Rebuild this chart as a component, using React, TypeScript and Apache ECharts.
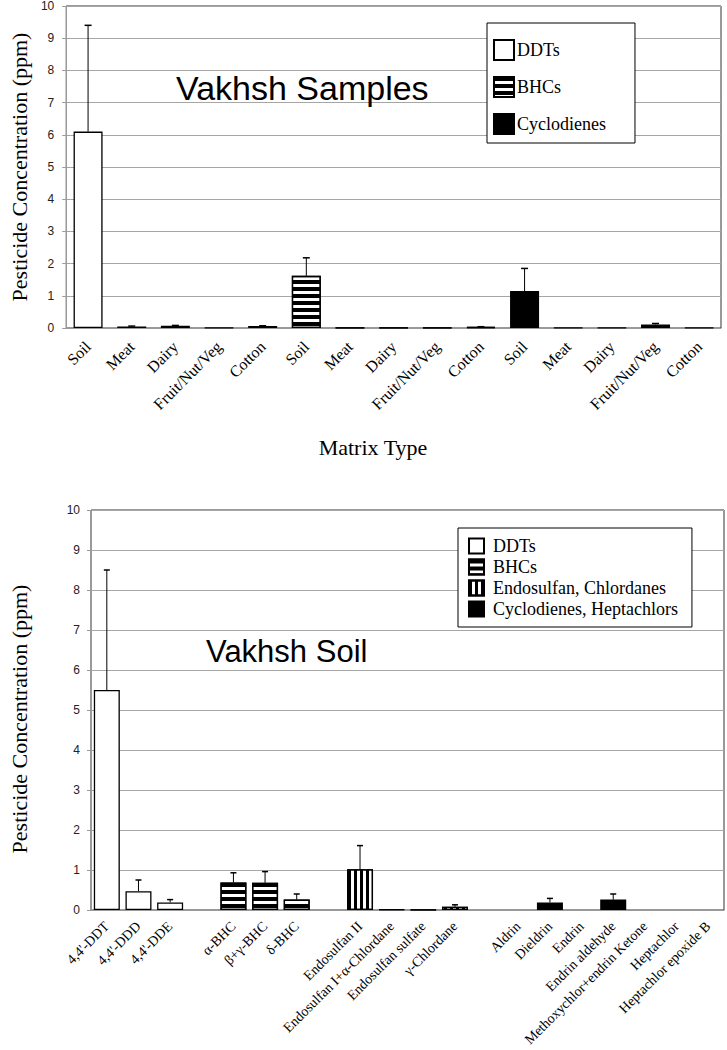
import React, { useEffect, useRef } from 'react';
import * as echarts from 'echarts';

// ---------- Top chart data (Vakhsh Samples) ----------
const matrixTypes = ['Soil', 'Meat', 'Dairy', 'Fruit/Nut/Veg', 'Cotton'];
const topLabels = [...matrixTypes, ...matrixTypes, ...matrixTypes];
const topDdtMean = [6.1, 0.05, 0.07, 0.01, 0.06];
const topDdtErr = [3.3, 0.01, 0.01, 0, 0.01];
const topBhcMean = [1.62, 0.005, 0.01, 0.01, 0.03];
const topBhcErr = [0.56, 0, 0, 0, 0.01];
const topCycMean = [1.15, 0.01, 0.01, 0.11, 0.01];
const topCycErr = [0.7, 0, 0, 0.03, 0];

// ---------- Bottom chart data (Vakhsh Soil) ----------
const soilLabels = [
  "4,4'-DDT", "4,4'-DDD", "4,4'-DDE", ' ',
  'α-BHC', 'β+γ-BHC', 'δ-BHC', '  ',
  'Endosulfan II', 'Endosulfan I+α-Chlordane', 'Endosulfan sulfate', 'γ-Chlordane', '   ',
  'Aldrin', 'Dieldrin', 'Endrin', 'Endrin aldehyde', 'Methoxychlor+endrin Ketone', 'Heptachlor', 'Heptachlor epoxide B',
];
const soilDdtMean = [5.5, 0.47, 0.19];
const soilDdtErr = [3.0, 0.28, 0.07];
const soilBhcMean = [0.69, 0.68, 0.26];
const soilBhcErr = [0.24, 0.28, 0.14];
const soilEndoMean = [1.02, 0.02, 0.01, 0.08];
const soilEndoErr = [0.59, 0, 0, 0.05];
const soilCycMean = [0, 0.19, 0, 0.26, 0, 0, 0];
const soilCycErr = [0, 0.1, 0, 0.14, 0, 0, 0];

const SERIF = 'Liberation Serif';
const SANS = 'Liberation Sans';

const hStripe = {
  symbol: 'rect', symbolSize: 1, color: '#000', backgroundColor: '#fff',
  dashArrayX: [1, 0], dashArrayY: [4, 3], rotation: 0,
};
const vStripe = {
  symbol: 'rect', symbolSize: 1, color: '#000', backgroundColor: '#fff',
  dashArrayX: [3, 3], dashArrayY: [1, 0], rotation: 0,
};

function placeGroup(values: number[], start: number, total: number) {
  const arr: any[] = new Array(total).fill('-');
  values.forEach((v, i) => { arr[start + i] = v === 0 ? '-' : v; });
  return arr;
}

function errorData(groups: { start: number; mean: number[]; err: number[] }[]) {
  const out: number[][] = [];
  groups.forEach(g => g.mean.forEach((m, i) => {
    if (g.err[i] > 0) out.push([g.start + i, m, m + g.err[i]]);
  }));
  return out;
}

function errorSeries(data: number[][], capHalf: number) {
  return {
    type: 'custom',
    name: 'error',
    z: 5,
    silent: true,
    data,
    encode: { x: 0, y: [1, 2] },
    renderItem: (params: any, api: any) => {
      const x = api.value(0);
      const p1 = api.coord([x, api.value(1)]);
      const p2 = api.coord([x, api.value(2)]);
      return {
        type: 'group',
        children: [
          { type: 'line', shape: { x1: p1[0], y1: p1[1], x2: p2[0], y2: p2[1] }, style: { stroke: '#000', lineWidth: 1 } },
          { type: 'line', shape: { x1: p2[0] - capHalf, y1: p2[1], x2: p2[0] + capHalf, y2: p2[1] }, style: { stroke: '#000', lineWidth: 1.5 } },
        ],
      };
    },
  };
}

function barSeries(name: string, data: any[], kind: 'white' | 'h' | 'v' | 'black', width: number) {
  const itemStyle: any = { color: kind === 'black' ? '#000' : '#fff', borderColor: '#000', borderWidth: 1.3 };
  if (kind === 'h') itemStyle.decal = hStripe;
  if (kind === 'v') itemStyle.decal = vStripe;
  return { type: 'bar', name, data, barWidth: width, barGap: '-100%', itemStyle, z: 2 };
}

function yAxisCfg(fontSize: number, margin: number, nameGap: number, namePad: number[]) {
  return {
    type: 'value', min: 0, max: 10, interval: 1,
    axisLine: { show: true, lineStyle: { color: '#9a9a9a', width: 1 } },
    axisTick: { show: true, length: 4, lineStyle: { color: '#9a9a9a' } },
    axisLabel: { fontFamily: SANS, fontSize, color: '#222', margin },
    splitLine: { show: true, lineStyle: { color: '#a6a6a6', width: 1.2 } },
    name: 'Pesticide Concentration (ppm)',
    nameLocation: 'middle', nameRotate: 90, nameGap,
    nameTextStyle: { fontFamily: SERIF, fontSize: 22, color: '#000', padding: namePad },
  };
}

function buildTop() {
  const N = topLabels.length;
  return {
    animation: false,
    backgroundColor: '#fff',
    title: {
      text: 'Vakhsh Samples', left: 176, top: 88, padding: 0,
      textAlign: 'left', textVerticalAlign: 'middle',
      textStyle: { fontFamily: SANS, fontSize: 34, fontWeight: 'normal', color: '#000' },
    },
    legend: {
      data: ['DDTs', 'BHCs', 'Cyclodienes'],
      orient: 'vertical', left: 487, top: 23,
      padding: [16, 29, 8, 6],
      itemWidth: 20, itemHeight: 20, itemGap: 15,
      icon: 'rect',
      borderColor: '#000', borderWidth: 1, backgroundColor: '#fff',
      textStyle: { fontFamily: SERIF, fontSize: 18, color: '#000', padding: [0, 0, 0, -2] },
    },
    grid: { left: 60, top: 5, width: 661, height: 323, show: true, borderColor: '#333', borderWidth: 1 },
    xAxis: {
      type: 'category', data: topLabels,
      axisLine: { show: true, lineStyle: { color: '#9a9a9a', width: 1 } },
      axisTick: { show: false },
      axisLabel: { interval: 0, rotate: 45, fontFamily: SERIF, fontSize: 16, color: '#000', margin: 16 },
      splitLine: { show: false },
    },
    yAxis: yAxisCfg(12, 12, 34, [0, 0, 0, 0]),
    graphic: [{
      type: 'text', x: 373, y: 447,
      style: { text: 'Matrix Type', fontFamily: SERIF, fontSize: 22, fill: '#000', align: 'center', verticalAlign: 'middle' },
    }],
    series: [
      barSeries('DDTs', placeGroup(topDdtMean, 0, N), 'white', 29),
      barSeries('BHCs', placeGroup(topBhcMean, 5, N), 'h', 29),
      barSeries('Cyclodienes', placeGroup(topCycMean, 10, N), 'black', 29),
      errorSeries(errorData([
        { start: 0, mean: topDdtMean, err: topDdtErr },
        { start: 5, mean: topBhcMean, err: topBhcErr },
        { start: 10, mean: topCycMean, err: topCycErr },
      ]), 3.5),
    ],
  };
}

function buildBottom() {
  const N = soilLabels.length;
  return {
    animation: false,
    backgroundColor: '#fff',
    title: {
      text: 'Vakhsh Soil', left: 206, top: 181, padding: 0,
      textAlign: 'left', textVerticalAlign: 'middle',
      textStyle: { fontFamily: SANS, fontSize: 31, fontWeight: 'normal', color: '#000' },
    },
    legend: {
      data: ['DDTs', 'BHCs', 'Endosulfan, Chlordanes', 'Cyclodienes, Heptachlors'],
      orient: 'vertical', left: 458, top: 58,
      padding: [9, 14, 9, 10],
      itemWidth: 15, itemHeight: 15, itemGap: 3,
      icon: 'rect',
      borderColor: '#000', borderWidth: 1, backgroundColor: '#fff',
      textStyle: { fontFamily: SERIF, fontSize: 18, lineHeight: 18, color: '#000', padding: [0, 0, 0, 4] },
    },
    grid: { left: 85, top: 40, width: 639, height: 400, show: true, borderColor: '#333', borderWidth: 1 },
    xAxis: {
      type: 'category', data: soilLabels,
      axisLine: { show: true, lineStyle: { color: '#9a9a9a', width: 1 } },
      axisTick: { show: false },
      axisLabel: { interval: 0, rotate: 45, fontFamily: SERIF, fontSize: 14, color: '#000', margin: 14 },
      splitLine: { show: false },
    },
    yAxis: yAxisCfg(12, 11, 61, [0, 18, 0, 0]),
    series: [
      barSeries('DDTs', placeGroup(soilDdtMean, 0, N), 'white', 26),
      barSeries('BHCs', placeGroup(soilBhcMean, 4, N), 'h', 26),
      barSeries('Endosulfan, Chlordanes', placeGroup(soilEndoMean, 8, N), 'v', 26),
      barSeries('Cyclodienes, Heptachlors', placeGroup(soilCycMean, 13, N), 'black', 26),
      errorSeries(errorData([
        { start: 0, mean: soilDdtMean, err: soilDdtErr },
        { start: 4, mean: soilBhcMean, err: soilBhcErr },
        { start: 8, mean: soilEndoMean, err: soilEndoErr },
        { start: 13, mean: soilCycMean, err: soilCycErr },
      ]), 3),
    ],
  };
}

export default function App() {
  const topRef = useRef<HTMLDivElement>(null);
  const botRef = useRef<HTMLDivElement>(null);
  useEffect(() => {
    document.body.style.margin = '0';
    const c1 = echarts.init(topRef.current!, null, { renderer: 'svg' });
    c1.setOption(buildTop() as any);
    const c2 = echarts.init(botRef.current!, null, { renderer: 'svg' });
    c2.setOption(buildBottom() as any);
    return () => { c1.dispose(); c2.dispose(); };
  }, []);
  return (
    <div style={{ width: 727, height: 1050, background: '#fff' }}>
      <div ref={topRef} style={{ width: 727, height: 470 }} />
      <div ref={botRef} style={{ width: 727, height: 580 }} />
    </div>
  );
}
